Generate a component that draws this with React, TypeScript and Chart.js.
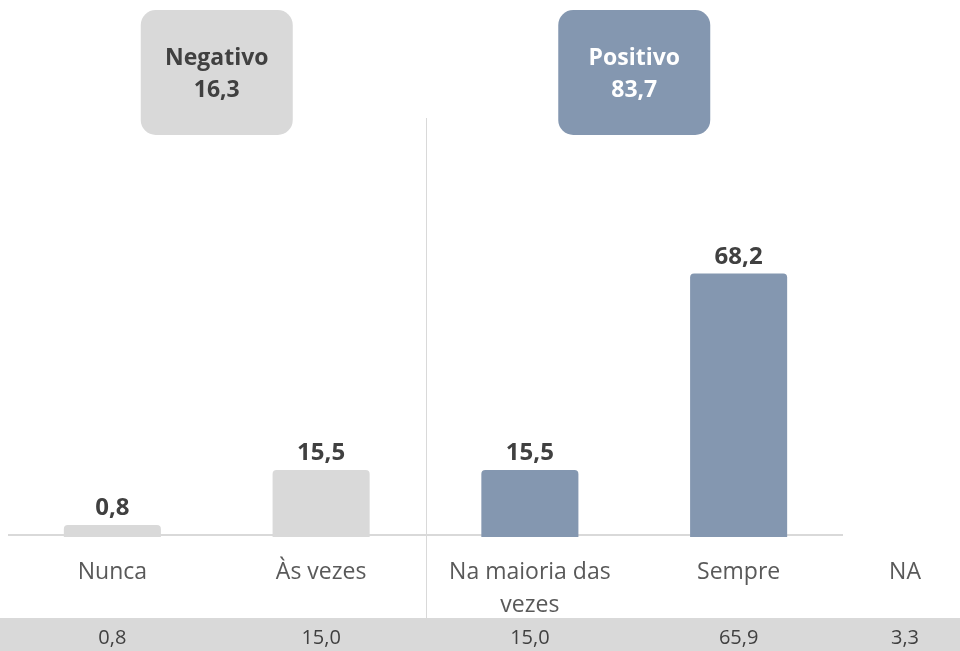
import { useEffect, useRef } from 'react';
import { Chart, registerables } from 'chart.js';
Chart.register(...registerables);

const categories = ['Nunca', 'Às vezes', 'Na maioria das vezes', 'Sempre'];
const barValues = [0.8, 15.5, 15.5, 68.2];
const barGroup = [0, 0, 1, 1];
const groupNames = ['Negativo', 'Positivo'];
const groupTotals = [16.3, 83.7];
const naLabel = 'NA';
const tableValues = [0.8, 15.0, 15.0, 65.9, 3.3];

const GRAY = '#D9D9D9';
const BLUE = '#8497B0';
const groupColors = [GRAY, BLUE];
const groupText = ['#404040', '#FFFFFF'];
const FONT = '"Open Sans", Lato, sans-serif';
const fmt = (v: number) => v.toFixed(1).replace('.', ',');

function wrap(ctx: CanvasRenderingContext2D, text: string, maxW: number): string[] {
  const words = text.split(' ');
  const lines: string[] = [];
  let cur = '';
  for (const w of words) {
    const t = cur ? cur + ' ' + w : w;
    if (ctx.measureText(t).width > maxW && cur) {
      lines.push(cur);
      cur = w;
    } else cur = t;
  }
  if (cur) lines.push(cur);
  return lines;
}

const overlay = {
  id: 'overlay',
  beforeDatasetsDraw(chart: any) {
    const { ctx, chartArea: a, scales } = chart;
    const x = scales.x;
    ctx.save();
    // bottom band
    ctx.fillStyle = GRAY;
    ctx.fillRect(0, 618, chart.width, chart.height - 618);
    // axis line
    ctx.strokeStyle = GRAY;
    ctx.lineWidth = 2;
    ctx.beginPath();
    ctx.moveTo(a.left, a.bottom - 2);
    ctx.lineTo(a.right, a.bottom - 2);
    ctx.stroke();
    // divider between groups
    const dx = Math.round((x.getPixelForValue(1) + x.getPixelForValue(2)) / 2);
    ctx.lineWidth = 1;
    ctx.beginPath();
    ctx.moveTo(dx + 0.5, 118);
    ctx.lineTo(dx + 0.5, 618);
    ctx.stroke();

    // group boxes
    groupNames.forEach((name, g) => {
      const idx = barGroup.map((gg, i) => (gg === g ? i : -1)).filter((i) => i >= 0);
      const cx = idx.reduce((s, i) => s + x.getPixelForValue(i), 0) / idx.length;
      ctx.fillStyle = groupColors[g];
      ctx.beginPath();
      (ctx as any).roundRect(cx - 76, 10, 152, 125, 15);
      ctx.fill();
      ctx.fillStyle = groupText[g];
      ctx.font = `bold 23px ${FONT}`;
      ctx.textAlign = 'center';
      ctx.textBaseline = 'alphabetic';
      ctx.fillText(name, cx, 65);
      ctx.fillText(fmt(groupTotals[g]), cx, 97);
    });

    // category labels
    ctx.fillStyle = '#595959';
    ctx.font = `23px ${FONT}`;
    ctx.textAlign = 'center';
    categories.forEach((c, i) => {
      const px = x.getPixelForValue(i);
      const lines = wrap(ctx, c, 190);
      lines.forEach((l, k) => ctx.fillText(l, px, 579 + k * 33));
    });
    const naX = a.right + 62;
    ctx.fillText(naLabel, naX, 579);

    // table values
    ctx.fillStyle = '#404040';
    ctx.font = `20px ${FONT}`;
    tableValues.forEach((v, i) => {
      const px = i < categories.length ? x.getPixelForValue(i) : naX;
      ctx.fillText(fmt(v), px, 644);
    });
    ctx.restore();
  },
  afterDatasetsDraw(chart: any) {
    const { ctx } = chart;
    const meta = chart.getDatasetMeta(0);
    ctx.save();
    ctx.fillStyle = '#404040';
    ctx.font = `bold 24px ${FONT}`;
    ctx.textAlign = 'center';
    ctx.textBaseline = 'alphabetic';
    meta.data.forEach((bar: any, i: number) => {
      ctx.fillText(fmt(barValues[i]), bar.x, bar.y - 10);
    });
    ctx.restore();
  },
};

export default function App() {
  const ref = useRef<HTMLCanvasElement>(null);
  useEffect(() => {
    if (!ref.current) return;
    const chart = new Chart(ref.current, {
      type: 'bar',
      data: {
        labels: categories,
        datasets: [
          {
            data: barValues,
            backgroundColor: barGroup.map((g) => groupColors[g]),
            base: -2.45,
            borderRadius: 4,
            borderSkipped: 'start',
            barPercentage: 0.465,
            categoryPercentage: 1,
          } as any,
        ],
      },
      options: {
        responsive: false,
        animation: false,
        layout: { padding: { left: 8, right: 117, top: 155, bottom: 114 } },
        plugins: { legend: { display: false }, tooltip: { enabled: false } },
        scales: {
          x: { display: false },
          y: { display: false, min: -2.45, max: 100 },
        },
      },
      plugins: [overlay],
    });
    return () => chart.destroy();
  }, []);
  return (
    <div style={{ position: 'absolute', left: 0, top: 0, width: 960, height: 651 }}>
      <canvas ref={ref} width={960} height={651} style={{ width: 960, height: 651 }} />
    </div>
  );
}
